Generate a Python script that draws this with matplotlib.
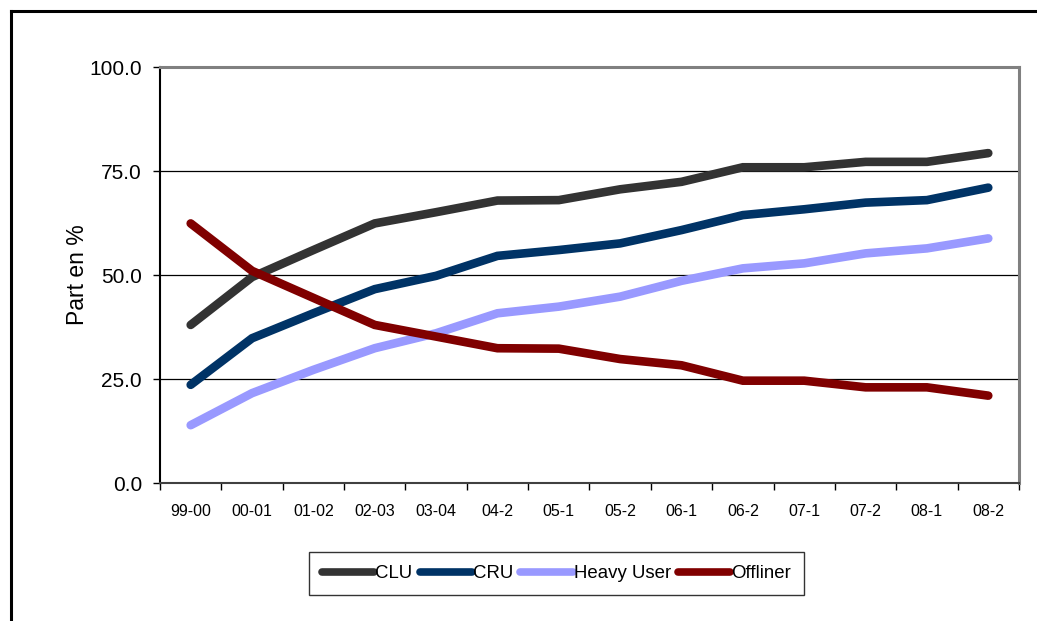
import matplotlib.pyplot as plt
from matplotlib.lines import Line2D

plt.rcParams['font.family'] = ['Liberation Sans', 'DejaVu Sans']

periods = ["99-00", "00-01", "01-02", "02-03", "03-04", "04-2", "05-1",
           "05-2", "06-1", "06-2", "07-1", "07-2", "08-1", "08-2"]

clu = [38.0, 49.5, 56.0, 62.4, 65.1, 67.9, 68.0,
       70.6, 72.4, 75.9, 75.9, 77.2, 77.2, 79.3]
cru = [23.6, 34.8, 40.8, 46.6, 49.8, 54.6, 56.0,
       57.6, 60.8, 64.4, 65.8, 67.4, 68.0, 71.0]
heavy = [13.9, 21.6, 27.2, 32.4, 36.0, 40.8, 42.4,
         44.8, 48.6, 51.6, 52.8, 55.2, 56.4, 58.8]
offliner = [62.4, 51.0, 44.5, 38.0, 35.2, 32.4, 32.3,
            29.8, 28.3, 24.6, 24.6, 23.0, 23.0, 21.0]

series = [("CLU", clu, "#333333"),
          ("CRU", cru, "#003366"),
          ("Heavy User", heavy, "#9999FF"),
          ("Offliner", offliner, "#800000")]

fig = plt.figure(figsize=(10.37, 6.21), dpi=100)
ax = fig.add_axes([0.1543, 0.2222, 0.9826 - 0.1543, 0.8921 - 0.2222])

x = list(range(len(periods)))
handles = []
for name, vals, col in series:
    ax.plot(x, vals, color=col, linewidth=6.2,
            solid_capstyle="round", solid_joinstyle="miter", zorder=3)
    handles.append(Line2D([0], [0], color=col, linewidth=5.5,
                          solid_capstyle="round", label=name))

ax.set_xlim(-0.5, len(periods) - 0.5)
ax.set_ylim(0, 100)

ax.set_yticks([0, 25, 50, 75, 100])
ax.set_yticklabels(["0.0", "25.0", "50.0", "75.0", "100.0"], fontsize=15)
ax.yaxis.grid(True, color="black", linewidth=0.9)
ax.set_axisbelow(True)

ax.set_xticks(x)
ax.set_xticklabels(periods, fontsize=11.5)
ax.set_xticks([i - 0.5 for i in range(len(periods) + 1)], minor=True)
ax.tick_params(axis="x", which="major", length=0, pad=15)
ax.tick_params(axis="x", which="minor", length=5, width=1, color="black")
ax.tick_params(axis="y", length=5, width=1, color="black", pad=8)

ax.set_ylabel("Part en %", fontsize=16.5, labelpad=0)

ax.spines["left"].set_color("black")
ax.spines["left"].set_linewidth(1.5)
ax.spines["bottom"].set_color("#404040")
ax.spines["bottom"].set_linewidth(1.5)
for s in ("top", "right"):
    ax.spines[s].set_color("#808080")
    ax.spines[s].set_linewidth(2.2)

leg = fig.legend(handles=handles, loc="center",
                 bbox_to_anchor=(556.5 / 1037, 1 - 573.5 / 621),
                 ncol=4, fontsize=13.4, frameon=True, fancybox=False,
                 edgecolor="black", handlelength=2.8, handletextpad=0.05,
                 columnspacing=0.4, borderpad=0.7, borderaxespad=0)
leg.get_frame().set_linewidth(1.0)

# outer chart frame (left and top edges only visible)
fig.add_artist(Line2D([11 / 1037, 11 / 1037], [0, 1 - 11 / 621],
                      color="black", linewidth=2.2,
                      transform=fig.transFigure))
fig.add_artist(Line2D([11 / 1037, 1], [1 - 11 / 621, 1 - 11 / 621],
                      color="black", linewidth=2.2,
                      transform=fig.transFigure))

fig.savefig("out.png", dpi=100)
